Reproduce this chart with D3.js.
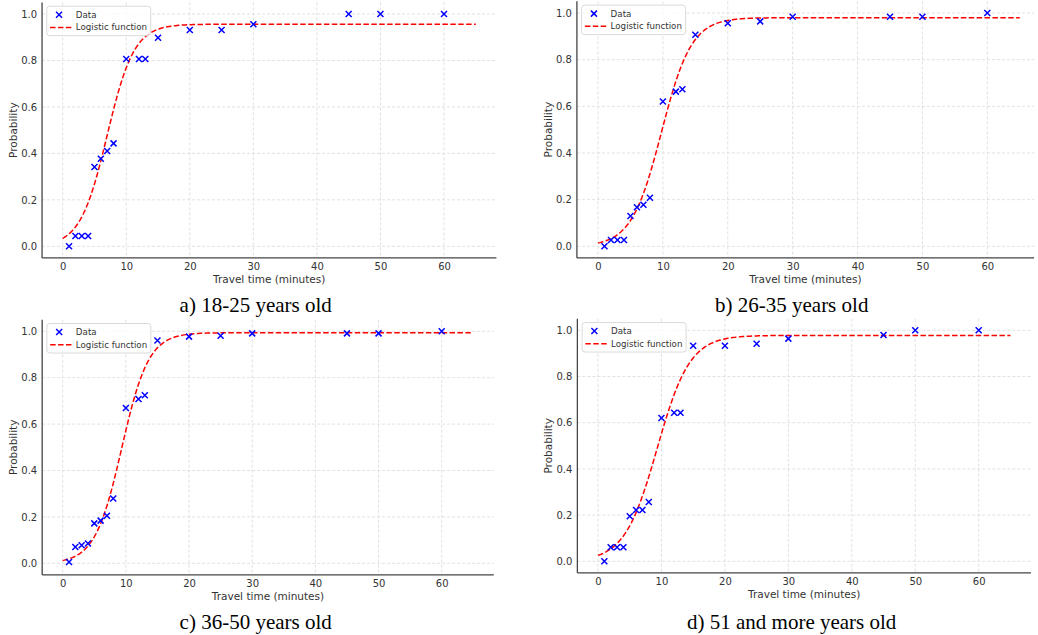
<!DOCTYPE html>
<html>
<head>
<meta charset="utf-8">
<script src="https://cdn.jsdelivr.net/npm/d3@7"></script>
<style>
  body { margin: 0; background: #fff; }
  svg { display: block; }
  .tick text { font-family: "DejaVu Sans", sans-serif; }
</style>
</head>
<body>
<svg id="chart" width="1038" height="635"></svg>
<script>
// travel time (minutes) where each survey point was taken
const travelTime = [1, 2, 3, 4, 5, 6, 7, 8, 10, 12, 13, 15, 20, 25, 30, 45, 50, 60];

// observed probability per age group
const prob18to25 = [0, 0.044, 0.044, 0.044, 0.341, 0.377, 0.41, 0.443, 0.806, 0.806, 0.806, 0.898, 0.931, 0.931, 0.956, 1.0, 1.0, 1.0];
const prob26to35 = [0, 0.027, 0.027, 0.027, 0.13, 0.167, 0.178, 0.208, 0.621, 0.663, 0.673, 0.907, 0.956, 0.964, 0.984, 0.984, 0.984, 1.0];
const prob36to50 = [0.006, 0.07, 0.078, 0.085, 0.172, 0.184, 0.205, 0.279, 0.669, 0.708, 0.724, 0.96, 0.977, 0.981, 0.991, 0.991, 0.991, 1.0];
const prob51plus = [0, 0.061, 0.061, 0.061, 0.195, 0.222, 0.222, 0.257, 0.62, 0.643, 0.643, 0.933, 0.933, 0.942, 0.964, 0.98, 1.0, 1.0];

// fitted logistic parameters: L / (1 + exp(-k (t - t0)))
const fitL  = [0.956, 0.98, 0.994, 0.978];
const fitK  = [0.47, 0.431, 0.47, 0.388];
const fitT0 = [7.0, 9.79, 9.35, 9.33];
const fitRange = [0, 65];

const captions = ["a) 18-25 years old", "b) 26-35 years old", "c) 36-50 years old", "d) 51 and more years old"];
const xTicks = [0, 10, 20, 30, 40, 50, 60];
const yTicks = [0, 0.2, 0.4, 0.6, 0.8, 1.0];

const seriesList = [prob18to25, prob26to35, prob36to50, prob51plus];

// where each panel sits on the page (pixel at t=0 / t=60, p=0 / p=1)
const panels = [
  { x0: 62.7, x60: 444.0, y0: 246.3, y1: 14.0, capX: 255.7, capY: 312, maxRight: 1038 },
  { x0: 598,  x60: 987.3, y0: 246.3, y1: 13.0, capX: 791.7, capY: 312, maxRight: 1034 },
  { x0: 62.7, x60: 441.7, y0: 563.3, y1: 331.3, capX: 255.7, capY: 629, maxRight: 1038 },
  { x0: 598,  x60: 978.7, y0: 561.3, y1: 330.3, capX: 791.7, capY: 629, maxRight: 1038 }
];

const svg = d3.select("#chart");
const sans = "'DejaVu Sans', sans-serif";
const textCol = "#333";

panels.forEach(function (p, i) {
  const x = d3.scaleLinear().domain([0, 60]).range([p.x0, p.x60]);
  const y = d3.scaleLinear().domain([0, 1]).range([p.y0, p.y1]);

  const left = x(-3.25), right = Math.min(x(68.25), p.maxRight);
  const top = y(1.05), bottom = y(-0.05);

  const g = svg.append("g");

  // grid
  g.append("g").selectAll("line").data(xTicks).enter().append("line")
    .attr("x1", d => x(d)).attr("x2", d => x(d))
    .attr("y1", top).attr("y2", bottom)
    .attr("stroke", "#d9d9d9").attr("stroke-width", 0.8).attr("stroke-dasharray", "3,2");
  g.append("g").selectAll("line").data(yTicks).enter().append("line")
    .attr("x1", left).attr("x2", right)
    .attr("y1", d => y(d)).attr("y2", d => y(d))
    .attr("stroke", "#d9d9d9").attr("stroke-width", 0.8).attr("stroke-dasharray", "3,2");

  // axes (only left + bottom spines)
  const xAxis = d3.axisBottom(x).tickValues(xTicks).tickSize(0).tickPadding(5).tickFormat(d3.format("d"));
  const yAxis = d3.axisLeft(y).tickValues(yTicks).tickSize(0).tickPadding(5).tickFormat(d3.format(".1f"));

  const gx = g.append("g").attr("transform", "translate(0," + bottom + ")").call(xAxis);
  gx.select(".domain").remove();
  gx.selectAll("text").attr("font-size", 10).attr("fill", textCol);

  const gy = g.append("g").attr("transform", "translate(" + left + ",0)").call(yAxis);
  gy.select(".domain").remove();
  gy.selectAll("text").attr("font-size", 10).attr("fill", textCol);

  g.append("line").attr("x1", left).attr("x2", left).attr("y1", top).attr("y2", bottom)
    .attr("stroke", "#444").attr("stroke-width", 1.3);
  g.append("line").attr("x1", left).attr("x2", right).attr("y1", bottom).attr("y2", bottom)
    .attr("stroke", "#444").attr("stroke-width", 1.3);

  // logistic curve
  const L = fitL[i], k = fitK[i], t0 = fitT0[i];
  const curve = d3.range(fitRange[0], fitRange[1] + 0.001, 0.25).map(t => [t, L / (1 + Math.exp(-k * (t - t0)))]);
  g.append("path").datum(curve)
    .attr("d", d3.line().x(d => x(d[0])).y(d => y(d[1])))
    .attr("fill", "none").attr("stroke", "#ff0000").attr("stroke-width", 1.5)
    .attr("stroke-dasharray", "5.5,2.4");

  // data markers (x)
  const pts = travelTime.map((t, j) => [t, seriesList[i][j]]);
  const s = 3;
  g.append("g").selectAll("path").data(pts).enter().append("path")
    .attr("d", d => {
      const cx = x(d[0]), cy = y(d[1]);
      return "M" + (cx - s) + "," + (cy - s) + "L" + (cx + s) + "," + (cy + s) +
             "M" + (cx - s) + "," + (cy + s) + "L" + (cx + s) + "," + (cy - s);
    })
    .attr("stroke", "#0000ff").attr("stroke-width", 1.5).attr("fill", "none");

  // axis labels
  g.append("text").attr("x", (left + right) / 2).attr("y", bottom + 25)
    .attr("text-anchor", "middle").attr("font-family", sans).attr("font-size", 10.5)
    .attr("fill", textCol).text("Travel time (minutes)");
  g.append("text")
    .attr("transform", "translate(" + (left - 25) + "," + ((top + bottom) / 2) + ") rotate(-90)")
    .attr("text-anchor", "middle").attr("font-family", sans).attr("font-size", 10.5)
    .attr("fill", textCol).text("Probability");

  // legend
  const lx = left + 4.7, ly = top + 3.8;
  const lg = g.append("g").attr("transform", "translate(" + lx + "," + ly + ")");
  lg.append("rect").attr("width", 104).attr("height", 29.5).attr("rx", 3)
    .attr("fill", "#fff").attr("fill-opacity", 0.8).attr("stroke", "#d0d0d0").attr("stroke-width", 0.8);
  const mx = 12.3, my = 8.5;
  lg.append("path")
    .attr("d", "M" + (mx - s) + "," + (my - s) + "L" + (mx + s) + "," + (my + s) +
               "M" + (mx - s) + "," + (my + s) + "L" + (mx + s) + "," + (my - s))
    .attr("stroke", "#0000ff").attr("stroke-width", 1.5);
  lg.append("text").attr("x", 29).attr("y", my + 3).attr("font-family", sans).attr("font-size", 8.7)
    .attr("fill", textCol).text("Data");
  lg.append("line").attr("x1", 3.3).attr("x2", 25.3).attr("y1", 21.2).attr("y2", 21.2)
    .attr("stroke", "#ff0000").attr("stroke-width", 1.5).attr("stroke-dasharray", "5.5,2.4");
  lg.append("text").attr("x", 29).attr("y", 24.3).attr("font-family", sans).attr("font-size", 8.7)
    .attr("fill", textCol).text("Logistic function");

  // caption
  svg.append("text").attr("x", p.capX).attr("y", p.capY)
    .attr("text-anchor", "middle").attr("font-family", "'Liberation Serif', 'Times New Roman', serif")
    .attr("font-size", 21).attr("fill", "#000").text(captions[i]);
});
</script>
</body>
</html>
